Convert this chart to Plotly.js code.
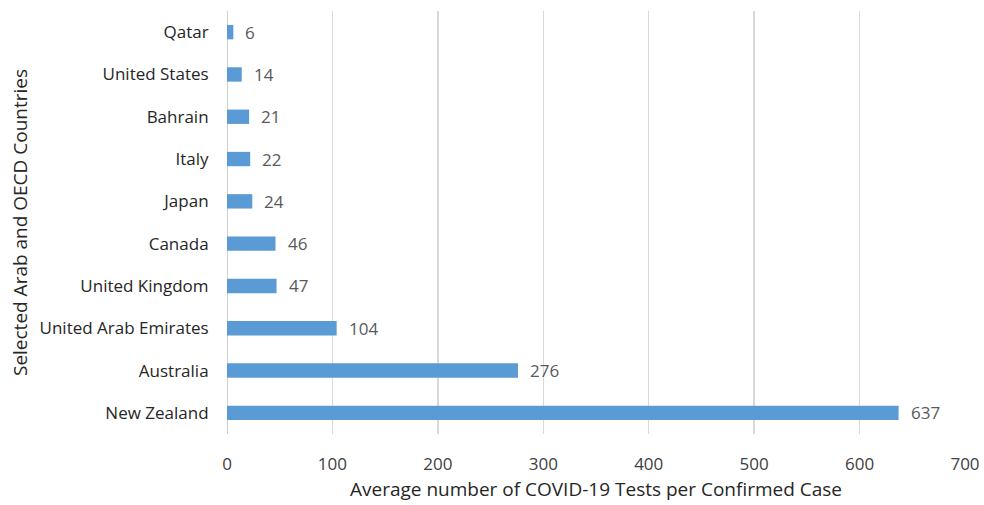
<!DOCTYPE html>
<html>
<head>
<meta charset="utf-8">
<script src="https://cdn.plot.ly/plotly-3.0.1.min.js"></script>
<style>html,body{margin:0;padding:0;background:#fff;}#chart{width:984px;height:505px;}</style>
</head>
<body>
<div id="chart"></div>
<script>
const countries = ["New Zealand","Australia","United Arab Emirates","United Kingdom","Canada","Japan","Italy","Bahrain","United States","Qatar"];
const testsPerCase = [637,276,104,47,46,24,22,21,14,6];
const xTicks = [0,100,200,300,400,500,600,700];

const FONT = "'Open Sans', Lato, sans-serif";

const trace = {
  type: "bar",
  orientation: "h",
  y: countries,
  x: testsPerCase,
  width: 0.34,
  marker: {color: "#5B9BD5"},
  hoverinfo: "x+y"
};

const annotations = countries.map((c, i) => ({
  x: testsPerCase[i], y: c, xref: "x", yref: "y",
  text: String(testsPerCase[i]),
  showarrow: false, xanchor: "left", yanchor: "middle", xshift: 10,
  font: {family: FONT, size: 17, color: "#595959"}
}));

const layout = {
  width: 984, height: 505,
  margin: {l: 227, r: 19, t: 11, b: 71},
  paper_bgcolor: "#fff", plot_bgcolor: "#fff",
  showlegend: false,
  xaxis: {
    range: [0, 700], tickvals: xTicks, ticktext: xTicks.map(String),
    showgrid: true, gridcolor: "#d9d9d9", gridwidth: 1.5,
    zeroline: false, showline: false, ticks: "outside", ticklen: 15, tickcolor: "rgba(0,0,0,0)",
    tickfont: {family: FONT, size: 17, color: "#404040"},
    title: {text: "Average number of COVID-19 Tests per Confirmed Case", font: {family: FONT, size: 19, color: "#262626"}, standoff: 8}
  },
  yaxis: {
    type: "category", categoryorder: "array", categoryarray: countries,
    showgrid: false, zeroline: false, showline: false, ticks: "outside", ticklen: 14, tickcolor: "rgba(0,0,0,0)",
    tickfont: {family: FONT, size: 17, color: "#262626"},
    title: {text: "Selected Arab and OECD Countries", font: {family: FONT, size: 19, color: "#262626"}, standoff: 6}
  },
  annotations: annotations,
  shapes: [{type: "line", xref: "x", yref: "paper", x0: 0, x1: 0, y0: 0, y1: 1, line: {color: "#bfbfbf", width: 1.5}, layer: "below"}]
};

Plotly.newPlot("chart", [trace], layout, {displayModeBar: false, staticPlot: true});
</script>
</body>
</html>
